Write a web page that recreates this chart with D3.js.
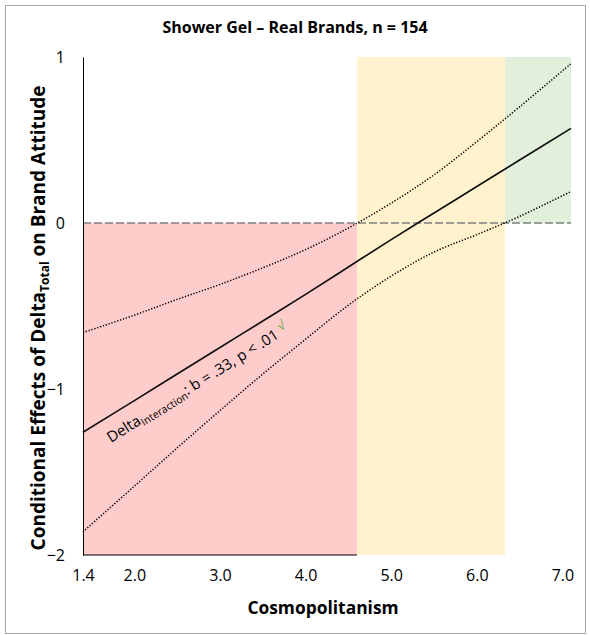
<!DOCTYPE html>
<html><head><meta charset="utf-8">
<script src="https://cdn.jsdelivr.net/npm/d3@7"></script>
<style>body{margin:0;background:#fff}svg{display:block}text{font-family:"Open Sans",sans-serif;fill:#000}</style>
</head><body>
<svg id="c" width="590" height="635"></svg>
<script>
// Data
const moderator = [1.4, 2.0, 2.5, 3.0, 3.5, 4.0, 4.5, 5.0, 5.5, 6.0, 6.5, 7.1];
const effect    = [-1.26, -1.07, -0.91, -0.75, -0.59, -0.43, -0.265, -0.10, 0.06, 0.22, 0.38, 0.57];
const upperCI   = [-0.66, -0.555, -0.46, -0.37, -0.27, -0.16, -0.03, 0.12, 0.29, 0.49, 0.70, 0.96];
const lowerCI   = [-1.86, -1.585, -1.355, -1.13, -0.91, -0.70, -0.495, -0.32, -0.175, -0.07, 0.04, 0.19];
const xTicks = [1.4, 2.0, 3.0, 4.0, 5.0, 6.0, 7.0];
const yTicks = [1, 0, -1, -2];
const jnLow = 4.6, jnHigh = 6.33;   // Johnson-Neyman points (region boundaries)

const svg = d3.select("#c");
const x = d3.scaleLinear().domain([1.4, 7.1]).range([83, 571]);
const y = d3.scaleLinear().domain([-2, 1]).range([555, 57]);

// outer border
svg.append("rect").attr("x",5.5).attr("y",5.5).attr("width",580).attr("height",628)
  .attr("fill","none").attr("stroke","#a6a6a6");

// regions
svg.append("rect").attr("x",x(1.4)).attr("y",y(0)).attr("width",x(jnLow)-x(1.4)).attr("height",y(-2)-y(0)).attr("fill","#ffcccc");
svg.append("rect").attr("x",x(jnLow)).attr("y",y(1)).attr("width",x(jnHigh)-x(jnLow)).attr("height",y(-2)-y(1)).attr("fill","#fff2cc");
svg.append("rect").attr("x",x(jnHigh)).attr("y",y(1)).attr("width",x(7.1)-x(jnHigh)).attr("height",y(0)-y(1)).attr("fill","#e2efda");

// zero line
svg.append("line").attr("x1",x(1.4)).attr("x2",x(7.1)).attr("y1",y(0)).attr("y2",y(0))
  .attr("stroke","#7f7f7f").attr("stroke-width",1.5).attr("stroke-dasharray","8,3");

// axes
const yAxis = d3.axisLeft(y).tickValues(yTicks).tickSize(0).tickPadding(18).tickFormat(d3.format("d"));
const gy = svg.append("g").attr("transform",`translate(${x(1.4)},0)`).call(yAxis);
gy.select(".domain").attr("stroke","#000").attr("stroke-width",1);
gy.selectAll("text").attr("font-size",16).attr("font-family","'Open Sans',sans-serif");

const xAxis = d3.axisBottom(x).tickValues(xTicks).tickSize(0).tickPadding(15).tickFormat(d3.format(".1f"));
const gx = svg.append("g").attr("transform",`translate(0,${y(-2)})`).call(xAxis);
gx.select(".domain").remove();
gx.selectAll("text").attr("font-size",16).attr("font-family","'Open Sans',sans-serif");
svg.append("line").attr("x1",x(1.4)).attr("x2",x(jnLow)).attr("y1",y(-2)).attr("y2",y(-2)).attr("stroke","#000");

// lines
const pts = a => moderator.map((m,i)=>[m,a[i]]);
const line = d3.line().x(d=>x(d[0])).y(d=>y(d[1])).curve(d3.curveCatmullRom);
svg.append("path").attr("d",line(pts(upperCI))).attr("fill","none").attr("stroke","#000").attr("stroke-width",1.5).attr("stroke-dasharray","1.3,1.7");
svg.append("path").attr("d",line(pts(lowerCI))).attr("fill","none").attr("stroke","#000").attr("stroke-width",1.5).attr("stroke-dasharray","1.3,1.7");
svg.append("path").attr("d",line(pts(effect))).attr("fill","none").attr("stroke","#111").attr("stroke-width",1.7);

// title
svg.append("text").attr("x",295).attr("y",33).attr("text-anchor","middle").attr("font-size",16).attr("font-weight","bold")
  .text("Shower Gel – Real Brands, n = 154");

// x title
svg.append("text").attr("x",323).attr("y",614).attr("text-anchor","middle").attr("font-size",17.4).attr("font-weight","bold")
  .text("Cosmopolitanism");

// y title
const yt = svg.append("text").attr("transform","translate(45,318) rotate(-90)").attr("text-anchor","middle")
  .attr("font-size",19).attr("font-weight","bold");
yt.append("tspan").text("Conditional Effects of Delta");
yt.append("tspan").attr("font-size",12).attr("dy",4).text("Total");
yt.append("tspan").attr("dy",-4).text(" on Brand Attitude");

// annotation
const an = svg.append("text").attr("transform","translate(111,443) rotate(-32)").attr("font-size",15);
an.append("tspan").text("Delta");
an.append("tspan").attr("font-size",10.5).attr("dy",3).text("Interaction");
an.append("tspan").attr("dy",-3).text(": b = .33, p < .01 ");
an.append("tspan").attr("fill","#70ad47").attr("font-size",13).attr("dy",-5).text("\u221A");
</script>
</body></html>
